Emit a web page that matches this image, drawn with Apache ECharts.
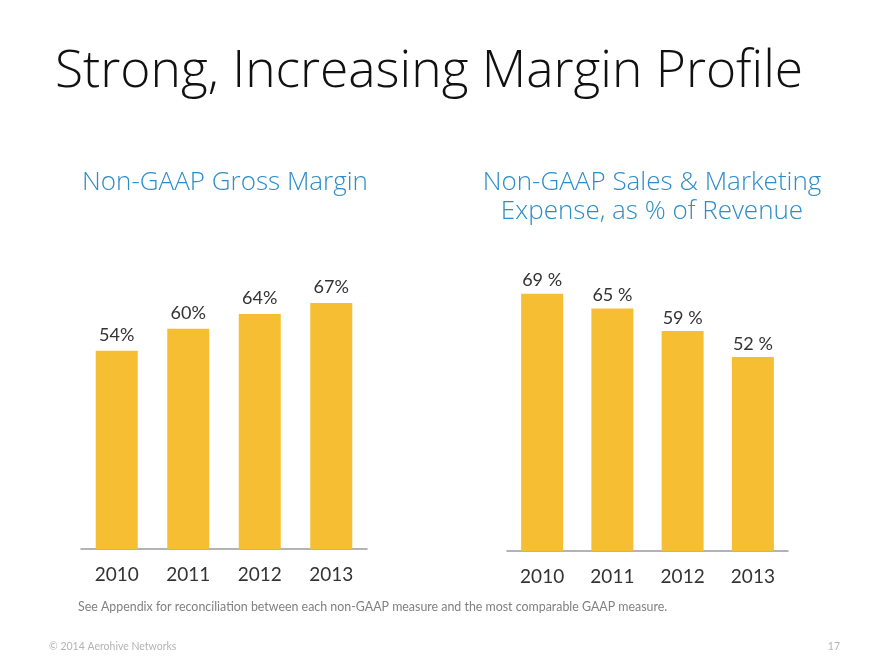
<!DOCTYPE html>
<html>
<head>
<meta charset="utf-8">
<script src="https://cdn.jsdelivr.net/npm/echarts@6/dist/echarts.min.js"></script>
<style>html,body{margin:0;padding:0;background:#fff}#c{width:880px;height:660px}</style>
</head>
<body>
<div id="c"></div>
<script>
const years = ['2010', '2011', '2012', '2013'];
const grossMargin = [54, 60, 64, 67];
const salesMarketing = [69, 65, 59, 52];

const FONT = 'Lato';
const HFONT = '"Open Sans"';
const BAR = '#F6BE33';
const BLUE = '#2E8DC8';

const chart = echarts.init(document.getElementById('c'));
const axisCommon = {
  type: 'category',
  axisLine: { lineStyle: { color: '#9a9a9a', width: 1.5 } },
  axisTick: { show: false },
  axisLabel: { color: '#333', fontSize: 19, fontFamily: FONT, margin: 16 }
};
const yCommon = { type: 'value', min: 0, max: 80, show: false, splitLine: { show: false } };

chart.setOption({
  animation: false,
  grid: [
    { left: 81, width: 286, bottom: 111, height: 293.6 },
    { left: 507, width: 281, bottom: 109, height: 298.4 }
  ],
  xAxis: [
    Object.assign({ gridIndex: 0, data: years }, axisCommon),
    Object.assign({ gridIndex: 1, data: years }, axisCommon)
  ],
  yAxis: [
    Object.assign({ gridIndex: 0 }, yCommon),
    Object.assign({ gridIndex: 1 }, yCommon)
  ],
  series: [
    {
      type: 'bar', xAxisIndex: 0, yAxisIndex: 0, data: grossMargin, barWidth: 42,
      itemStyle: { color: BAR },
      label: { show: true, position: 'top', distance: 7, color: '#333', fontSize: 18, fontFamily: FONT, formatter: '{c}%' }
    },
    {
      type: 'bar', xAxisIndex: 1, yAxisIndex: 1, data: salesMarketing, barWidth: 42,
      itemStyle: { color: BAR },
      label: { show: true, position: 'top', distance: 4, color: '#333', fontSize: 18, fontFamily: FONT, formatter: '{c} %' }
    }
  ],
  graphic: [
    { type: 'text', x: 55, y: 72, style: { text: 'Strong, Increasing Margin Profile', font: '300 51.5px ' + HFONT, fill: '#111', verticalAlign: 'middle', textAlign: 'left' } },
    { type: 'text', x: 225, y: 183, style: { text: 'Non-GAAP Gross Margin', font: '300 26px ' + HFONT, fill: BLUE, verticalAlign: 'middle', textAlign: 'center' } },
    { type: 'text', x: 652, y: 197.5, style: { text: 'Non-GAAP Sales & Marketing\nExpense, as % of Revenue', font: '300 26px ' + HFONT, fill: BLUE, verticalAlign: 'middle', textAlign: 'center', lineHeight: 29 } },
    { type: 'text', x: 78, y: 607, style: { text: 'See Appendix for reconciliation between each non-GAAP measure and the most comparable GAAP measure.', font: '12.4px ' + FONT, fill: '#808080', verticalAlign: 'middle', textAlign: 'left' } },
    { type: 'text', x: 49, y: 647, style: { text: '© 2014 Aerohive Networks', font: '10.5px ' + FONT, fill: '#b4b4b4', verticalAlign: 'middle', textAlign: 'left' } },
    { type: 'text', x: 840, y: 647, style: { text: '17', font: '10.5px ' + FONT, fill: '#b4b4b4', verticalAlign: 'middle', textAlign: 'right' } }
  ]
});
</script>
</body>
</html>
